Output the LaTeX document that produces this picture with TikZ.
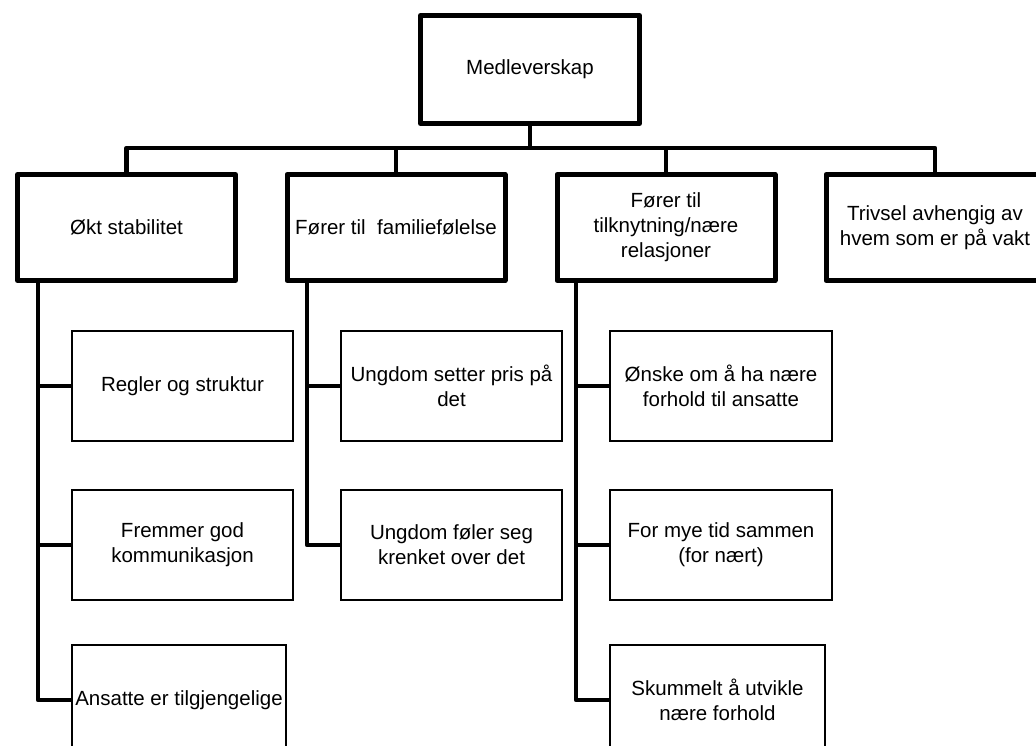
\documentclass[tikz,border=0pt]{standalone}
\usepackage{fontspec}
\setmainfont{Liberation Sans}
\begin{document}
\begin{tikzpicture}[x=1pt,y=-1pt,
  txt/.style={align=center, inner sep=0pt, font=\fontsize{20.5}{25}\selectfont},
  bigbox/.style={txt, draw, line width=5pt, line join=round, minimum width=218pt, minimum height=106pt},
  smallbox/.style={txt, draw, line width=2pt, minimum width=221pt, minimum height=110pt},
  conn/.style={line width=4.6pt, line join=round, line cap=rect}]
\useasboundingbox (0,0) rectangle (1036,746);
\clip (0,0) rectangle (1036,746);
% top
\node[bigbox, minimum width=219pt, minimum height=108pt] (top) at (530,69.5) {Medleverskap};
% level 1
\node[bigbox] (b1) at (126.5,227.5) {Økt stabilitet};
\node[bigbox] (b2) at (396,227.5) {Fører til\ \ familiefølelse};
\node[bigbox] (b3) at (666,227.5) {Fører til\\tilknytning/nære\\relasjoner};
\node[bigbox] (b4) at (935,227.5) {Trivsel avhengig av\\hvem som er på vakt};
% level 2
\node[smallbox] (c11) at (182.5,386) {Regler og struktur};
\node[smallbox] (c12) at (182.5,545) {Fremmer god\\kommunikasjon};
\node[smallbox, minimum width=214pt] (c13) at (179,700) {Ansatte er tilgjengelige};
\node[smallbox] (c21) at (451.5,386) {Ungdom setter pris på\\det};
\node[smallbox] (c22) at (451.5,545) {Ungdom føler seg\\krenket over det};
\node[smallbox, minimum width=222pt] (c31) at (721,386) {Ønske om å ha nære\\forhold til ansatte};
\node[smallbox, minimum width=222pt] (c32) at (721,545) {For mye tid sammen\\(for nært)};
\node[smallbox, minimum width=215pt] (c33) at (717.5,700) {Skummelt å utvikle\\nære forhold};
% connectors
\coordinate (bus) at (532,148);
\coordinate (s1) at (38,283);
\coordinate (s2) at (307,283);
\coordinate (s3) at (576,283);
\draw[conn] (top.south) -- (top.south |- bus);
\draw[conn] (b1.north) -- (b1.north |- bus) -- (b4.north |- bus) -- (b4.north);
\draw[conn] (b2.north) -- (b2.north |- bus);
\draw[conn] (b3.north) -- (b3.north |- bus);
\draw[conn, line cap=butt] (c13.west) -| (s1);
\draw[conn, line cap=butt] (c11.west) -- (c11.west -| s1);
\draw[conn, line cap=butt] (c12.west) -- (c12.west -| s1);
\draw[conn, line cap=butt] (c22.west) -| (s2);
\draw[conn, line cap=butt] (c21.west) -- (c21.west -| s2);
\draw[conn, line cap=butt] (c33.west) -| (s3);
\draw[conn, line cap=butt] (c31.west) -- (c31.west -| s3);
\draw[conn, line cap=butt] (c32.west) -- (c32.west -| s3);
\end{tikzpicture}
\end{document}
